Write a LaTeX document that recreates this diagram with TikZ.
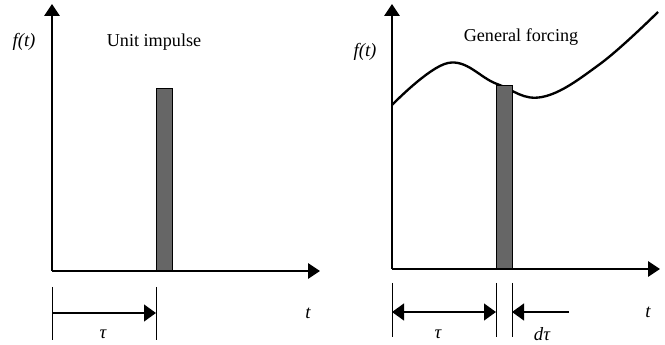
\documentclass[tikz,border=0pt]{standalone}
\usepackage{fontspec}
\setmainfont{Liberation Serif}
\usetikzlibrary{arrows.meta, positioning}

\begin{document}
\begin{tikzpicture}[
    x=0.03cm, y=-0.03cm,
    axis/.style={line width=2pt, -{Triangle[length=3.6mm, width=4.6mm]}},
    dim/.style={line width=2pt, -{Triangle[length=3.6mm, width=5mm]}},
    tick/.style={line width=0.7pt},
    pulse/.style={draw, line width=0.7pt, fill=black!60},
    lbl/.style={font=\fontsize{15.5}{18}\selectfont},
    var/.style={font=\fontsize{16}{18}\selectfont\itshape}
]
    \useasboundingbox (0,0) rectangle (665,345);

    % left panel: unit impulse
    \coordinate (o1) at (52,271);
    \coordinate (y1) at (52,4);
    \coordinate (x1) at (320,271);
    \draw[pulse] (156,88) rectangle (172,271);
    \draw[axis] (o1) -- (y1);
    \draw[axis] (o1) -- (x1);
    \node[var] (f1) at (24,42) {f(t)};
    \node[lbl] (title1) at (154,42) {Unit impulse};
    \node[var] (t1) at (308,313) {t};

    \coordinate (a1) at (52,287);
    \coordinate (a1b) at (52,340);
    \coordinate (b1) at (156,287);
    \coordinate (b1b) at (156,340);
    \draw[tick] (a1) -- (a1b);
    \draw[tick] (b1) -- (b1b);
    \draw[dim] (52,313) -- (156,313);
    \node[var] (tau1) at (103,334) {τ};

    % right panel: general forcing
    \coordinate (o2) at (392,269);
    \coordinate (y2) at (392,4);
    \coordinate (x2) at (660,269);
    \draw[line width=2pt] plot[smooth, tension=0.65] coordinates {(392,105) (448,63) (497,84) (542,97) (600,64) (658,12)};
    \draw[pulse] (496,85) rectangle (512,269);
    \draw[axis] (o2) -- (y2);
    \draw[axis] (o2) -- (x2);
    \node[var] (f2) at (365,52) {f(t)};
    \node[lbl] (title2) at (521,37) {General forcing};
    \node[var] (t2) at (648,312) {t};

    \coordinate (a2) at (392,283);
    \coordinate (a2b) at (392,337);
    \coordinate (b2) at (496,283);
    \coordinate (b2b) at (496,337);
    \coordinate (c2) at (512,283);
    \coordinate (c2b) at (512,337);
    \coordinate (d2) at (569,312);
    \draw[tick] (a2) -- (a2b);
    \draw[tick] (b2) -- (b2b);
    \draw[tick] (c2) -- (c2b);
    \draw[dim, {Triangle[length=3.6mm, width=5mm]}-{Triangle[length=3.6mm, width=5mm]}] (392,312) -- (496,312);
    \draw[dim] (d2) -- (512,312);
    \node[var] (tau2) at (438,334) {τ};
    \node[var] (dtau) at (542,334) {dτ};
\end{tikzpicture}
\end{document}
